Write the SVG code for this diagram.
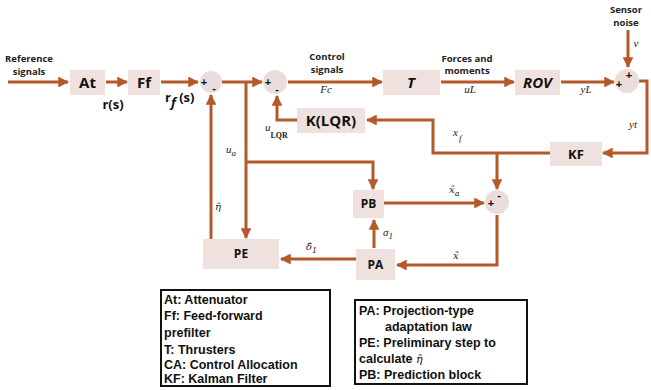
<svg xmlns="http://www.w3.org/2000/svg" width="651" height="390" viewBox="0 0 651 390">
<style>
.ln{fill:none;stroke:#B5592B;stroke-width:3}
.bx{fill:#EFE1DE}
.sm{fill:#EADDDC}
.bl{font-family:"Open Sans","Liberation Sans",sans-serif;font-weight:bold;fill:#111}
.lb{font-family:"Open Sans","Liberation Sans",sans-serif;font-weight:bold;font-size:9.5px;fill:#222}
.mt{font-family:"Liberation Serif",serif;font-style:italic;font-size:11px;fill:#222}
.hm{font-family:"DejaVu Serif",serif;font-style:italic;font-size:10px;fill:#222}
.sg{font-family:"Liberation Sans",sans-serif;font-weight:bold;font-size:11px;fill:#111}
.lg{font-family:"Liberation Sans",Arial,sans-serif;font-weight:bold;font-size:12.5px;fill:#111}
</style>
<defs>
<marker id="ah" viewBox="0 0 10 10" refX="9" refY="5" markerWidth="3.6" markerHeight="3.6" orient="auto" markerUnits="strokeWidth">
<path d="M0,0 L10,5 L0,10 z" fill="#B5592B"/>
</marker>
</defs>

<g id="connectors">
<path class="ln" d="M8,82 H68" marker-end="url(#ah)"/>
<path class="ln" d="M106,82 H127" marker-end="url(#ah)"/>
<path class="ln" d="M161,82 H198" marker-end="url(#ah)"/>
<path class="ln" d="M222,82 H262" marker-end="url(#ah)"/>
<path class="ln" d="M288,82 H382" marker-end="url(#ah)"/>
<path class="ln" d="M441,82 H514" marker-end="url(#ah)"/>
<path class="ln" d="M561,82 H614" marker-end="url(#ah)"/>
<path class="ln" d="M628,30 V67" marker-end="url(#ah)"/>
<path class="ln" d="M639,81 H647 V153 H603" marker-end="url(#ah)"/>
<path class="ln" d="M550,153 H433 V120 H367" marker-end="url(#ah)"/>
<path class="ln" d="M497,153 V189" marker-end="url(#ah)"/>
<path class="ln" d="M297,120 H277 V96" marker-end="url(#ah)"/>
<path class="ln" d="M246,82 V238" marker-end="url(#ah)"/>
<path class="ln" d="M246,162 H373 V189" marker-end="url(#ah)"/>
<path class="ln" d="M211,240 V95" marker-end="url(#ah)"/>
<path class="ln" d="M384,203 H484" marker-end="url(#ah)"/>
<path class="ln" d="M497,215 V265 H397" marker-end="url(#ah)"/>
<path class="ln" d="M374,248 V220" marker-end="url(#ah)"/>
<path class="ln" d="M356,259 H281" marker-end="url(#ah)"/>
</g>

<g id="At"><rect class="bx" x="70" y="70" width="35" height="25"/><text class="bl" x="87.5" y="88" font-size="15" text-anchor="middle">At</text></g>
<g id="Ff"><rect class="bx" x="128" y="70" width="32" height="25"/><text class="bl" x="144" y="88" font-size="15" text-anchor="middle">Ff</text></g>
<g id="sum1"><circle class="sm" cx="211" cy="82" r="11"/><text class="sg" x="204" y="86" text-anchor="middle">+</text><text class="sg" x="214" y="92" text-anchor="middle">-</text></g>
<g id="sum2"><circle class="sm" cx="275" cy="82" r="12"/><text class="sg" x="268" y="86" text-anchor="middle">+</text><text class="sg" x="277" y="93" text-anchor="middle">-</text></g>
<g id="T"><rect class="bx" x="383" y="70" width="57" height="25"/><text class="bl" x="411" y="88" font-size="15" font-style="italic" text-anchor="middle">T</text></g>
<g id="ROV"><rect class="bx" x="515" y="70" width="45" height="25"/><text class="bl" x="537.5" y="88" font-size="15" font-style="italic" text-anchor="middle">ROV</text></g>
<g id="sum3"><circle class="sm" cx="627" cy="81" r="12"/><text class="sg" x="619" y="88" text-anchor="middle">+</text><text class="sg" x="629" y="79" text-anchor="middle">+</text></g>
<g id="KF"><rect class="bx" x="550" y="142" width="52" height="24"/><text class="bl" x="576" y="159" font-size="13" text-anchor="middle">KF</text></g>
<g id="KLQR"><rect class="bx" x="297" y="108" width="68" height="25"/><text class="bl" x="331" y="126" font-size="15" text-anchor="middle">K(LQR)</text></g>
<g id="sum4"><circle class="sm" cx="497" cy="202" r="12"/><text class="sg" x="491" y="207" text-anchor="middle">+</text><text class="sg" x="499" y="199" text-anchor="middle">-</text></g>
<g id="PB"><rect class="bx" x="353" y="190" width="31" height="28"/><text class="bl" x="368.5" y="208" font-size="12" text-anchor="middle">PB</text></g>
<g id="PA"><rect class="bx" x="356" y="249" width="39" height="31"/><text class="bl" x="375.5" y="269" font-size="12" text-anchor="middle">PA</text></g>
<g id="PE"><rect class="bx" x="203" y="239" width="76" height="30"/><text class="bl" x="241" y="258" font-size="12" text-anchor="middle">PE</text></g>

<g id="labels">
<text class="lb" x="29" y="62" text-anchor="middle">Reference</text>
<text class="lb" x="29" y="75" text-anchor="middle">signals</text>
<text class="bl" x="113" y="109" font-size="13" text-anchor="middle">r(s)</text>
<text class="bl" x="165" y="102" font-size="13">r<tspan font-style="italic" dy="5">f</tspan><tspan dy="-5"> (s)</tspan></text>
<text class="lb" x="327" y="60" text-anchor="middle">Control</text>
<text class="lb" x="327" y="73" text-anchor="middle">signals</text>
<text class="mt" x="326" y="93" text-anchor="middle">Fc</text>
<text class="lb" x="467" y="62" text-anchor="middle">Forces and</text>
<text class="lb" x="467" y="74" text-anchor="middle">moments</text>
<text class="mt" x="470" y="93" text-anchor="middle">uL</text>
<text class="mt" x="586" y="93" text-anchor="middle">yL</text>
<text class="lb" x="626" y="13" text-anchor="middle">Sensor</text>
<text class="lb" x="626" y="26" text-anchor="middle">noise</text>
<text class="mt" x="636" y="47" text-anchor="middle">v</text>
<text class="mt" x="633" y="128" text-anchor="middle">yt</text>
<text class="mt" x="453" y="136">x<tspan font-size="9" dx="1" dy="5">f</tspan></text>
<text class="mt" x="265" y="131">u<tspan font-size="8" font-style="normal" font-weight="bold" dy="7">LQR</tspan></text>
<text class="mt" x="226" y="153">u<tspan font-size="9" dy="3">a</tspan></text>
<text class="hm" x="215" y="210">η̂</text>
<text class="hm" x="306" y="250">δ̂<tspan font-size="8" dy="3">1</tspan></text>
<text class="mt" x="383" y="236">σ<tspan font-size="9" dy="3">1</tspan></text>
<text class="hm" x="449" y="193">x̂<tspan font-size="8" dy="3">a</tspan></text>
<text class="hm" x="453" y="259">x̃</text>
</g>

<g id="legend1">
<rect x="161" y="290" width="169" height="96" fill="#fff" stroke="#111" stroke-width="2"/>
<text class="lg" x="164" y="304">At: Attenuator</text>
<text class="lg" x="164" y="320">Ff: Feed-forward</text>
<text class="lg" x="164" y="337">prefilter</text>
<text class="lg" x="164" y="354" font-size="14">T: Thrusters</text>
<text class="lg" x="164" y="369">CA: Control Allocation</text>
<text class="lg" x="164" y="383">KF: Kalman Filter</text>
</g>
<g id="legend2">
<rect x="355" y="300" width="172" height="84" fill="#fff" stroke="#111" stroke-width="2"/>
<text class="lg" x="359" y="315">PA: Projection-type</text>
<text class="lg" x="385" y="331">adaptation law</text>
<text class="lg" x="359" y="347">PE: Preliminary step to</text>
<text class="lg" x="359" y="363">calculate <tspan font-family="DejaVu Serif,serif" font-style="italic" font-weight="normal" font-size="11">η̂</tspan></text>
<text class="lg" x="359" y="379">PB: Prediction block</text>
</g>
</svg>
